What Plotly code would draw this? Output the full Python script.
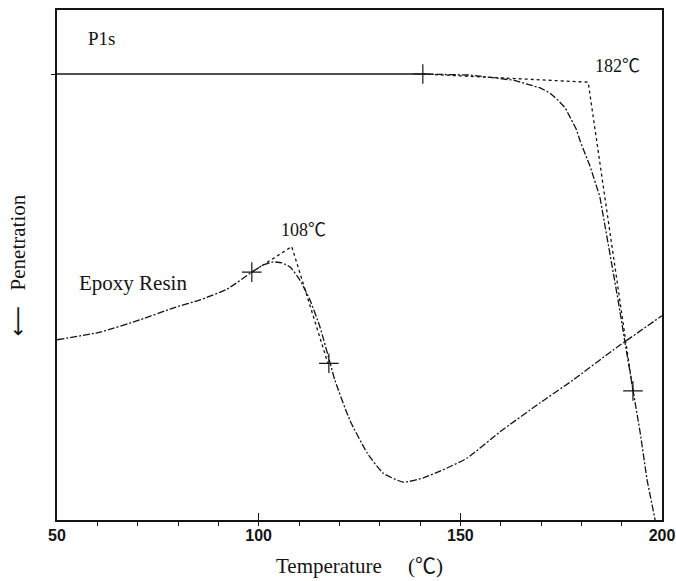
import plotly.graph_objects as go

# Temperature (°C) and penetration (arbitrary units, larger = higher on the chart)
p1s_T = [50, 140.7, 152.4, 163.1, 169.8, 172.2, 174.2, 176.0, 177.4, 178.7, 179.9,
         182.2, 184.6, 186.4, 189.1, 190.8, 192.8, 194.6, 196.3, 198.3]
p1s_v = [87.1, 87.1, 86.9, 85.9, 84.4, 83.4, 82.0, 80.5, 78.5, 76.4, 73.6,
         69.0, 63.1, 55.3, 43.0, 34.8, 25.2, 17.0, 7.8, 0.0]

epoxy_T = [50, 60.7, 70.6, 78.8, 85.5, 92.2, 98.3, 101.1, 103.6, 105.8, 107.8,
           110.2, 112.7, 115.2, 117.7, 118.9, 122.6, 126.9, 130.8, 135.8, 140.7,
           145.7, 151.7, 159.8, 169.8, 177.9, 187.9, 200.0]
epoxy_v = [35.2, 36.7, 39.1, 41.4, 43.0, 45.1, 48.4, 49.8, 50.4, 50.2, 49.4,
           46.9, 43.0, 37.7, 30.7, 27.3, 19.5, 13.1, 9.2, 7.4, 8.2,
           9.8, 12.1, 17.2, 22.9, 27.3, 33.2, 39.9]

# tangent constructions (onset temperatures)
p1s_tan_T = [140.7, 181.7, 192.8]
p1s_tan_v = [87.1, 85.5, 25.2]
epoxy_tan_T = [98.3, 108.2, 117.2]
epoxy_tan_v = [48.4, 53.4, 30.5]

# tangent points marked with "+"
mark_T = [140.7, 192.8, 98.3, 117.4]
mark_v = [87.1, 25.2, 48.4, 30.6]

x_ticks = [50, 100, 150, 200]

serif = "Liberation Serif, Times New Roman, Noto Sans CJK JP, serif"
ink = "#141414"
curve_dash = "7px,2px,2px,2px"

fig = go.Figure()

fig.add_trace(go.Scatter(x=p1s_T[:2], y=p1s_v[:2], mode="lines",
                         line=dict(color=ink, width=1.3), hoverinfo="skip", showlegend=False))
fig.add_trace(go.Scatter(x=p1s_T[1:], y=p1s_v[1:], mode="lines",
                         line=dict(color=ink, width=1.3, dash=curve_dash),
                         showlegend=False))
fig.add_trace(go.Scatter(x=epoxy_T, y=epoxy_v, mode="lines",
                         line=dict(color=ink, width=1.3, dash=curve_dash, shape="spline", smoothing=0.5),
                         showlegend=False))
fig.add_trace(go.Scatter(x=p1s_tan_T, y=p1s_tan_v, mode="lines",
                         line=dict(color=ink, width=1.3, dash="dot"), showlegend=False))
fig.add_trace(go.Scatter(x=epoxy_tan_T, y=epoxy_tan_v, mode="lines",
                         line=dict(color=ink, width=1.3, dash="dot"), showlegend=False))
fig.add_trace(go.Scatter(x=mark_T, y=mark_v, mode="markers",
                         marker=dict(symbol="cross-thin", size=14, line=dict(color=ink, width=1.2)),
                         showlegend=False))

fig.update_layout(
    width=676, height=581,
    margin=dict(l=57, r=14, t=10, b=61),
    paper_bgcolor="white", plot_bgcolor="white",
    font=dict(family=serif, color=ink),
    xaxis=dict(
        range=[50, 200], tickvals=x_ticks, ticktext=[str(t) for t in x_ticks],
        automargin=False,
        ticks="inside", ticklen=7, tickwidth=1.2, tickcolor=ink,
        minor=dict(dtick=10, ticks="outside", ticklen=4, tickwidth=1, tickcolor=ink),
        showline=True, linecolor=ink, linewidth=2, mirror=True,
        showgrid=False, zeroline=False,
        tickfont=dict(family="Liberation Sans, Arial, sans-serif", size=16, color=ink, weight="bold"),
        title=dict(text="\u2002\u2009Temperature\u2003 (℃)", font=dict(family=serif, size=21, color=ink), standoff=15),
    ),
    yaxis=dict(
        range=[0, 99.6], tickvals=[87.1], showticklabels=False, automargin=False,
        ticks="outside", ticklen=4, tickcolor=ink,
        showline=True, linecolor=ink, linewidth=1.6, mirror=True,
        showgrid=False, zeroline=False,
    ),
    annotations=[
        dict(text="<span style='font-family:DejaVu Sans'>⟵</span>\u2002 Penetration",
             xref="paper", yref="paper", x=-0.064, y=0.5,
             textangle=-90, showarrow=False, xanchor="center", yanchor="middle",
             font=dict(family=serif, size=21, color=ink)),
        dict(text="P1s", x=57.2, y=94.0, xanchor="left", yanchor="middle", showarrow=False,
             font=dict(family=serif, size=19, color=ink)),
        dict(text="182℃", x=182.9, y=88.6, xanchor="left", yanchor="middle", showarrow=False,
             font=dict(family=serif, size=18, color=ink)),
        dict(text="108℃", x=105.1, y=56.6, xanchor="left", yanchor="middle", showarrow=False,
             font=dict(family=serif, size=18, color=ink)),
        dict(text="Epoxy Resin", x=55.0, y=46.3, xanchor="left", yanchor="middle", showarrow=False,
             font=dict(family=serif, size=21, color=ink)),
    ],
)

fig.write_html("out.html", config={"displayModeBar": False},
               post_script="document.body.style.margin='0';")
